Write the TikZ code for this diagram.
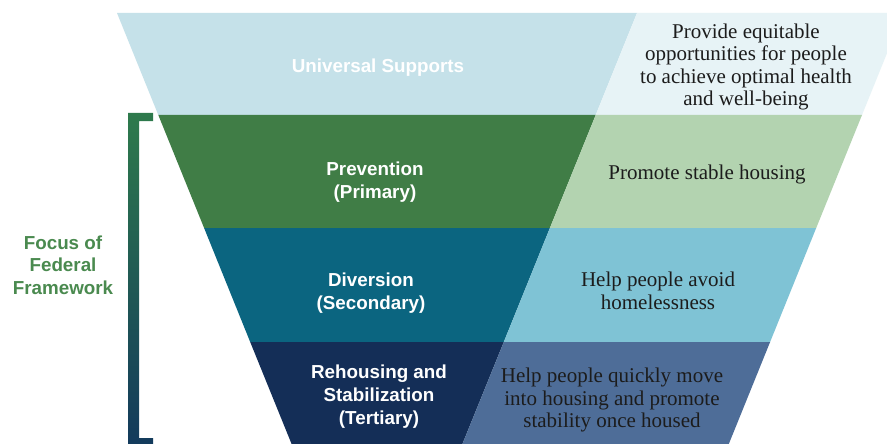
\documentclass[tikz,border=0pt]{standalone}
\usepackage{fontspec}
\setmainfont{Liberation Serif}
\setsansfont{Liberation Sans}
\definecolor{uniL}{HTML}{C5E1E9}
\definecolor{uniR}{HTML}{E7F3F6}
\definecolor{preL}{HTML}{407D46}
\definecolor{preR}{HTML}{B3D3B0}
\definecolor{divL}{HTML}{0B6580}
\definecolor{divR}{HTML}{7FC3D5}
\definecolor{rehL}{HTML}{142E57}
\definecolor{rehR}{HTML}{4E6D98}
\definecolor{focus}{HTML}{4A8A4F}
\definecolor{brTop}{HTML}{2E7A4C}
\definecolor{brMid}{HTML}{1A6B76}
\definecolor{brBot}{HTML}{133A5C}
\definecolor{txt}{HTML}{1C1C1C}
\tikzset{
  levellabel/.style={align=center, text=white, font=\sffamily\bfseries\fontsize{18.8}{23}\selectfont, inner sep=0pt},
  goallabel/.style={align=center, text=txt, font=\fontsize{21}{22.5}\selectfont, inner sep=0pt},
  focuslabel/.style={align=center, text=focus, font=\sffamily\bfseries\fontsize{18.8}{22.5}\selectfont, inner sep=0pt}
}
\begin{document}
\begin{tikzpicture}[x=1pt, y=-1pt]
\useasboundingbox (0,0) rectangle (887,444);
\fill[white] (0,0) rectangle (887,444);
\begin{scope}
\clip (0,0) rectangle (887,444);
% universal band
\fill[uniL] (117,13) -- (637,13) -- (595.7,115) -- (158.3,115) -- cycle;
\fill[uniR] (637,13) -- (903.3,13) -- (862,115) -- (595.7,115) -- cycle;
% prevention band
\fill[preL] (158.3,115) -- (595.7,115) -- (549.9,228) -- (204.1,228) -- cycle;
\fill[preR] (595.7,115) -- (862,115) -- (816.2,228) -- (549.9,228) -- cycle;
% diversion band
\fill[divL] (204.1,228) -- (549.9,228) -- (503.8,342) -- (250.2,342) -- cycle;
\fill[divR] (549.9,228) -- (816.2,228) -- (770.1,342) -- (503.8,342) -- cycle;
% rehousing band
\fill[rehL] (250.2,342) -- (503.8,342) -- (462.4,444) -- (291.6,444) -- cycle;
\fill[rehR] (503.8,342) -- (770.1,342) -- (728.8,444) -- (462.4,444) -- cycle;
% bracket
\shade[top color=brTop, middle color=brMid, bottom color=brBot]
  (128,113) -- (153,113) -- (153,121) -- (139,121) -- (139,438) -- (153,438)
  -- (153,446) -- (128,446) -- cycle;
\end{scope}
% labels
\node[levellabel] (uni) at (378,68) {Universal Supports};
\node[levellabel] (pre) at (375,182) {Prevention\\(Primary)};
\node[levellabel] (div) at (371,293) {Diversion\\(Secondary)};
\node[levellabel] (reh) at (379,397) {Rehousing and\\Stabilization\\(Tertiary)};
\node[goallabel] (unig) at (746,67) {Provide equitable\\opportunities for people\\to achieve optimal health\\and well-being};
\node[goallabel] (preg) at (707,174) {Promote stable housing};
\node[goallabel] (divg) at (658,291) {Help people avoid\\homelessness};
\node[goallabel] (rehg) at (612,400) {Help people quickly move\\into housing and promote\\stability once housed};
\node[focuslabel] (focus) at (63,265) {Focus of\\Federal\\Framework};
\end{tikzpicture}
\end{document}
